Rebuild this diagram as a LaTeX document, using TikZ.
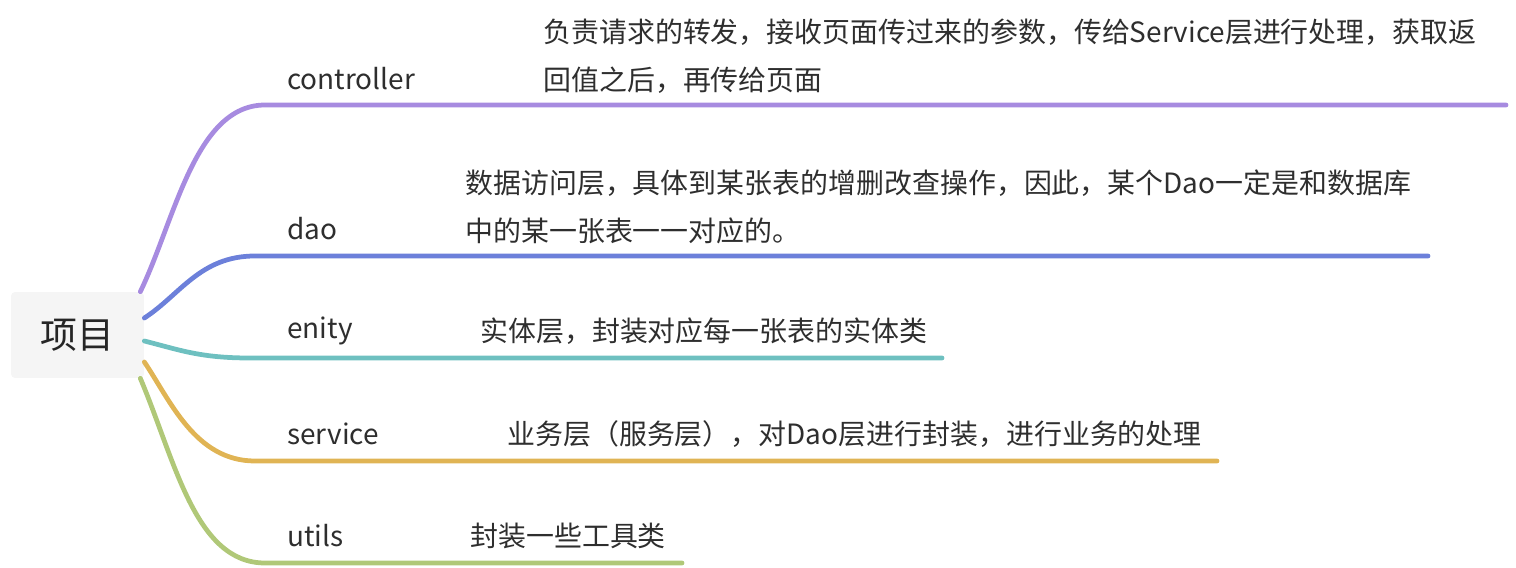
\documentclass[tikz,border=0pt]{standalone}
\usepackage{fontspec}
\setmainfont{Noto Sans CJK SC}
\usetikzlibrary{positioning}
\definecolor{BrPurple}{RGB}{167,139,224}
\definecolor{BrBlue}{RGB}{108,128,218}
\definecolor{BrTeal}{RGB}{110,192,192}
\definecolor{BrGold}{RGB}{224,180,84}
\definecolor{BrGreen}{RGB}{176,200,120}

\begin{document}
\begin{tikzpicture}[
  x=0.02cm, y=-0.02cm,
  rootnd/.style = {fill=black!4, rounded corners=0.08cm, inner sep=0pt,
                   minimum width=2.66cm, minimum height=1.72cm,
                   font=\fontsize{21pt}{25pt}\selectfont, text=black!85},
  lb/.style  = {anchor=west, inner sep=0pt, text=black!82,
                font=\fontsize{15.9pt}{27.3pt}\selectfont},
  ds/.style  = {lb, align=left},
  br/.style  = {line width=0.095cm, line cap=round},
]
\useasboundingbox (0,0) rectangle (1516,568);

\node[rootnd] (root) at (77.5,335) {项目};

% branch labels
\node[lb] (lbCtrl) at (287,79)  {controller};
\node[lb] (lbDao)  at (287,229) {dao};
\node[lb] (lbEnt)  at (287,331) {enity};
\node[lb] (lbSrv)  at (287,434) {service};
\node[lb] (lbUtl)  at (287,536) {utils};

% descriptions
\node[ds] (dsCtrl) at (543,56)
  {负责请求的转发，接收页面传过来的参数，传给Service层进行处理，获取返\\回值之后，再传给页面};
\node[ds] (dsDao)  at (465,206.5)
  {数据访问层，具体到某张表的增删改查操作，因此，某个Dao一定是和数据库\\中的某一张表一一对应的。};
\node[ds] (dsEnt)  at (480,331) {实体层，封装对应每一张表的实体类};
\node[ds] (dsSrv)  at (507,434) {业务层（服务层），对Dao层进行封装，进行业务的处理};
\node[ds] (dsUtl)  at (470,536) {封装一些工具类};

% line ends
\coordinate (endCtrl) at (1506,105);
\coordinate (endDao)  at (1428,256);
\coordinate (endEnt)  at (942,358);
\coordinate (endSrv)  at (1217,461);
\coordinate (endUtl)  at (682,563);

\draw[br, BrPurple] ([xshift=-0.08cm]root.north east)
  .. controls (175,220) and (195,105) .. (265,105) -- (endCtrl);
\draw[br, BrBlue] ([yshift=0.34cm]root.east)
  .. controls (180,295) and (200,256) .. (255,256) -- (endDao);
\draw[br, BrTeal] ([yshift=-0.12cm]root.east)
  .. controls (180,350) and (200,358) .. (250,358) -- (endEnt);
\draw[br, BrGold] ([yshift=-0.54cm]root.east)
  .. controls (170,400) and (195,461) .. (255,461) -- (endSrv);
\draw[br, BrGreen] ([xshift=-0.08cm]root.south east)
  .. controls (175,460) and (195,563) .. (265,563) -- (endUtl);

\end{tikzpicture}
\end{document}
